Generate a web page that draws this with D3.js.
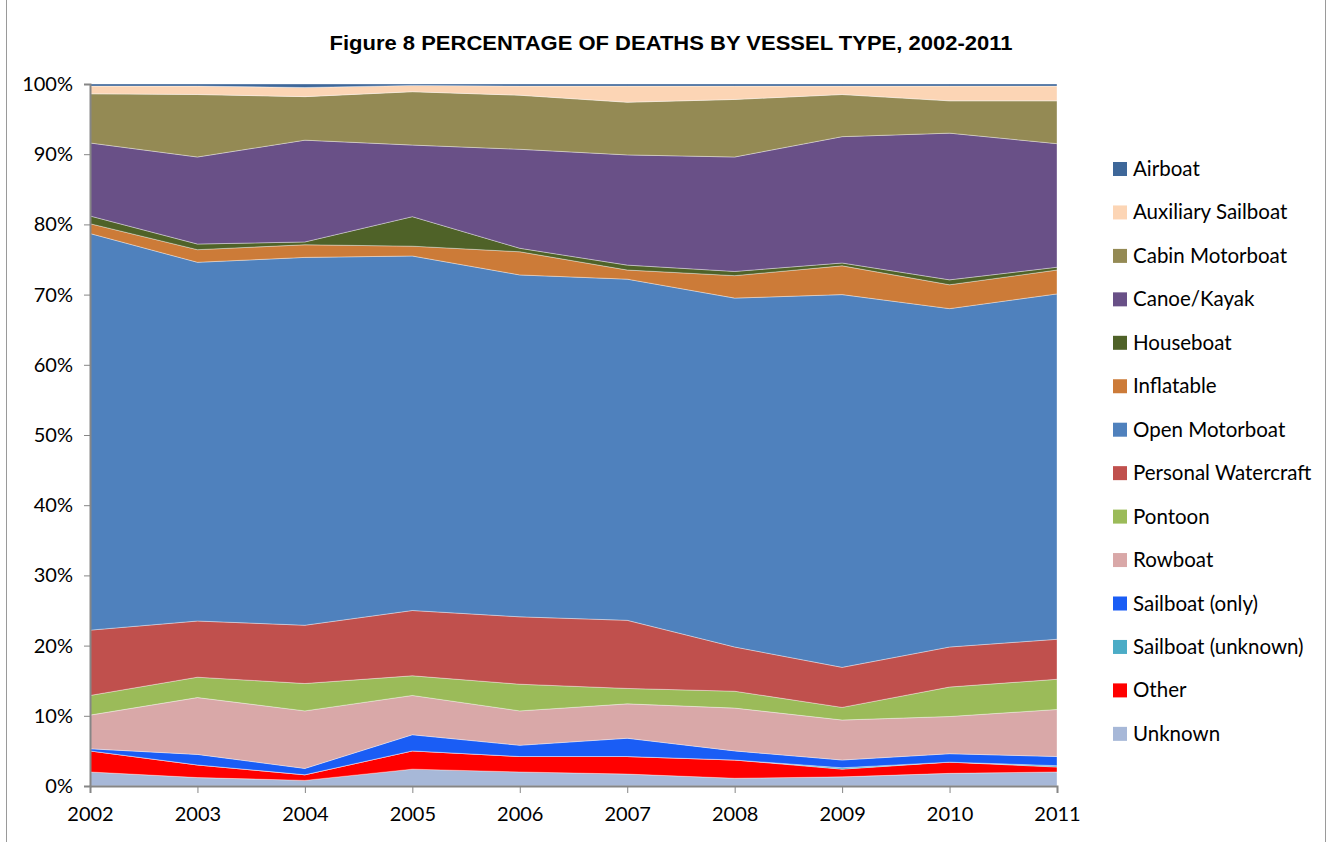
<!DOCTYPE html>
<html>
<head>
<meta charset="utf-8">
<script src="https://cdn.jsdelivr.net/npm/d3@7"></script>
<style>
  body { margin: 0; background: #fff; }
  svg { display: block; }
  .axis text { font-family: Lato, "Open Sans", sans-serif; font-size: 20px; fill: #000; }
  .axis path, .axis line { stroke: #868686; }
  .legend text { font-family: Lato, "Open Sans", sans-serif; font-size: 20.5px; fill: #000; }
</style>
</head>
<body>
<svg width="1332" height="842"></svg>
<script>
// years on the x axis
const years = [2002, 2003, 2004, 2005, 2006, 2007, 2008, 2009, 2010, 2011];

// percentage of deaths per vessel type
const unknown        = [2.0, 1.2, 0.8, 2.4, 2.0, 1.7, 1.1, 1.3, 1.8, 2.0];
const other          = [3.0, 1.8, 0.8, 2.6, 2.2, 2.5, 2.6, 1.1, 1.6, 0.7];
const sailboatUnk    = [0.0, 0.0, 0.0, 0.0, 0.0, 0.0, 0.0, 0.2, 0.0, 0.2];
const sailboatOnly   = [0.3, 1.5, 0.9, 2.3, 1.6, 2.6, 1.3, 1.1, 1.2, 1.3];
const rowboat        = [4.8, 8.1, 8.2, 5.6, 4.9, 4.9, 6.1, 5.7, 5.3, 6.7];
const pontoon        = [2.8, 2.9, 3.9, 2.8, 3.8, 2.2, 2.4, 1.8, 4.2, 4.3];
const personalWc     = [9.3, 8.0, 8.3, 9.3, 9.6, 9.7, 6.3, 5.7, 5.7, 5.7];
const openMotorboat  = [56.5, 51.1, 52.4, 50.5, 48.7, 48.6, 49.7, 53.1, 48.2, 49.2];
const inflatable     = [1.4, 1.8, 1.8, 1.4, 3.3, 1.3, 3.2, 4.1, 3.4, 3.4];
const houseboat      = [1.1, 0.8, 0.4, 4.2, 0.5, 0.7, 0.6, 0.4, 0.7, 0.4];
const canoeKayak     = [10.4, 12.4, 14.5, 10.2, 14.1, 15.7, 16.3, 18.0, 20.9, 17.6];
const cabinMotorboat = [7.0, 8.9, 6.2, 7.6, 7.7, 7.5, 8.2, 6.0, 4.6, 6.1];
const auxSailboat    = [1.1, 1.2, 1.3, 0.9, 1.3, 2.3, 1.9, 1.2, 2.1, 2.1];
const airboat        = [0.3, 0.3, 0.5, 0.2, 0.3, 0.3, 0.3, 0.3, 0.3, 0.3];

// stacked bottom to top
const series = [
  {name: 'Unknown',             values: unknown,        color: '#A7B8D8'},
  {name: 'Other',               values: other,          color: '#FF0000'},
  {name: 'Sailboat (unknown)',  values: sailboatUnk,    color: '#4BACC6'},
  {name: 'Sailboat (only)',     values: sailboatOnly,   color: '#1A5DF5'},
  {name: 'Rowboat',             values: rowboat,        color: '#D9A8A8'},
  {name: 'Pontoon',             values: pontoon,        color: '#9BBB59'},
  {name: 'Personal Watercraft', values: personalWc,     color: '#C0504D'},
  {name: 'Open Motorboat',      values: openMotorboat,  color: '#4F81BD'},
  {name: 'Inflatable',          values: inflatable,     color: '#CC7B38'},
  {name: 'Houseboat',           values: houseboat,      color: '#4F6228'},
  {name: 'Canoe/Kayak',         values: canoeKayak,     color: '#695087'},
  {name: 'Cabin Motorboat',     values: cabinMotorboat, color: '#948A54'},
  {name: 'Auxiliary Sailboat',  values: auxSailboat,    color: '#FCD5B5'},
  {name: 'Airboat',             values: airboat,        color: '#3E6799'}
];

let svg = d3.select('svg');

// outer chart frame
svg.append('rect')
  .attr('x', 6.5).attr('y', -2)
  .attr('width', 1319).attr('height', 860)
  .attr('fill', 'none')
  .attr('stroke', '#9a9a9a');

let margin = {left: 90, right: 275, top: 84, bottom: 56},
  width = 1332 - margin.left - margin.right,
  height = 842 - margin.top - margin.bottom;

let g = svg.append('g')
  .attr('transform', 'translate(' + margin.left + ',' + margin.top + ')');

let table = years.map(function(y, i) {
  let row = {year: y};
  series.forEach(function(s) { row[s.name] = s.values[i]; });
  return row;
});

let stack = d3.stack()
  .keys(series.map(function(s) { return s.name; }))
  .offset(d3.stackOffsetExpand);

let layers = stack(table);

let x = d3.scaleLinear()
  .domain(d3.extent(years))
  .range([0, width]);

let y = d3.scaleLinear()
  .domain([0, 1])
  .range([height, 0]);

let area = d3.area()
  .x(function(d) { return x(d.data.year); })
  .y0(function(d) { return y(d[0]); })
  .y1(function(d) { return y(d[1]); });

let color = d3.scaleOrdinal()
  .domain(series.map(function(s) { return s.name; }))
  .range(series.map(function(s) { return s.color; }));

g.selectAll('.layer')
  .data(layers)
  .enter().append('path')
  .attr('class', 'layer')
  .attr('d', area)
  .attr('fill', function(d) { return color(d.key); })
  .attr('stroke', '#ffffff')
  .attr('stroke-opacity', 0.45)
  .attr('stroke-width', 0.8);

// y axis
let yAxis = g.append('g')
  .attr('class', 'axis')
  .call(d3.axisLeft(y).ticks(10).tickFormat(d3.format('.0%')).tickSize(6).tickPadding(11));
yAxis.select('.domain').attr('stroke-width', 2);

// x axis
let xAxis = g.append('g')
  .attr('class', 'axis')
  .attr('transform', 'translate(0,' + height + ')')
  .call(d3.axisBottom(x).tickValues(years).tickFormat(d3.format('d')).tickSize(7).tickPadding(14));
xAxis.select('.domain').attr('stroke-width', 2);

// title
svg.append('text')
  .attr('x', 671)
  .attr('y', 50)
  .attr('text-anchor', 'middle')
  .attr('textLength', 683)
  .attr('lengthAdjust', 'spacingAndGlyphs')
  .style('font-family', '"Liberation Sans", Arial, sans-serif')
  .style('font-weight', 'bold')
  .style('font-size', '20px')
  .text('Figure 8 PERCENTAGE  OF DEATHS  BY VESSEL TYPE, 2002-2011');

// legend, top entry is the top layer
let legendItems = series.slice().reverse();
let legend = svg.append('g')
  .attr('class', 'legend')
  .attr('transform', 'translate(1113,169)');

let item = legend.selectAll('.item')
  .data(legendItems)
  .enter().append('g')
  .attr('class', 'item')
  .attr('transform', function(d, i) { return 'translate(0,' + (i * 43.45) + ')'; });

item.append('rect')
  .attr('x', 0).attr('y', -7)
  .attr('width', 14).attr('height', 14)
  .attr('fill', function(d) { return d.color; });

item.append('text')
  .attr('x', 20)
  .attr('y', 7)
  .text(function(d) { return d.name; });
</script>
</body>
</html>
